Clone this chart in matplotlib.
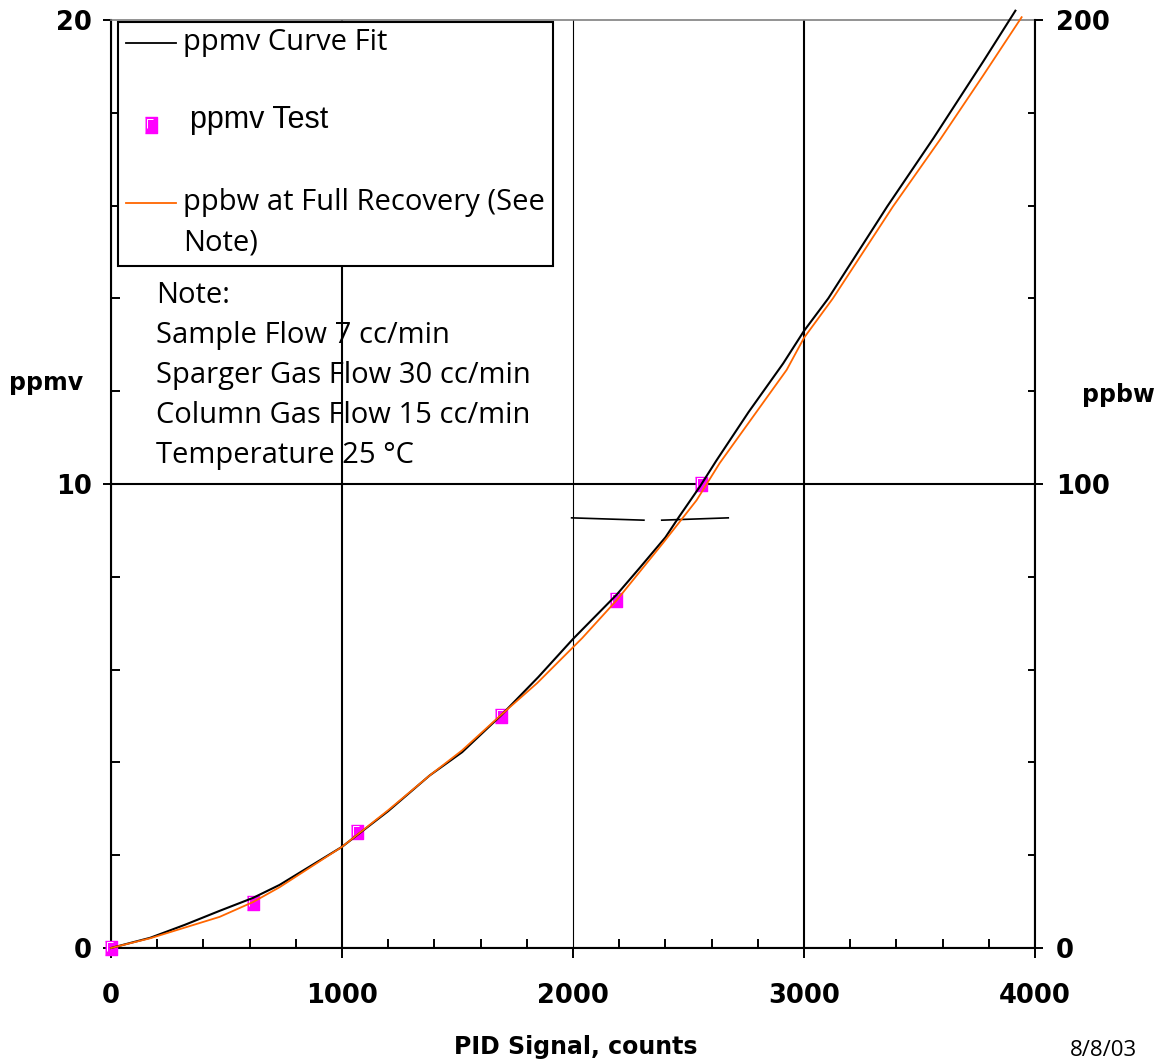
import matplotlib.pyplot as plt
from matplotlib.patches import Rectangle
from matplotlib.path import Path
from matplotlib.ticker import MultipleLocator

# ppmv curve fit (left axis)
fit_x = [0, 170, 320, 470, 615, 730, 1000, 1200, 1380, 1520, 1690, 1850, 2000,
         2190, 2290, 2400, 2460, 2550, 2620, 2760, 2910, 3000, 3105, 3360, 3560,
         3775, 3915]
fit_y = [0, 0.22, 0.5, 0.8, 1.08, 1.36, 2.18, 2.95, 3.72, 4.22, 5.02, 5.84, 6.66,
         7.62, 8.2, 8.85, 9.3, 9.95, 10.5, 11.55, 12.6, 13.3, 14.0, 15.98, 17.45,
         19.1, 20.2]

# ppmv test points
test_x = [0, 615, 1065, 1688, 2186, 2554]
test_y = [0, 0.97, 2.5, 5.0, 7.5, 10.0]

# ppbw at full recovery (right axis)
ppbw_x = [0, 170, 320, 470, 615, 730, 1000, 1200, 1380, 1520, 1690, 1845, 2040,
          2190, 2390, 2535, 2635, 2925, 3000, 3125, 3385, 3590, 3775, 3942]
ppbw_y = [0, 2.1, 4.4, 6.7, 9.9, 13.1, 21.8, 29.7, 37.2, 42.6, 50.3, 57.1, 66.8,
          75.0, 87.3, 96.5, 104.5, 124.6, 131.5, 140.0, 159.8, 174.3, 188.0, 200.6]

# stray line pieces drawn in the original chart
stray_a_x = [1994, 2307]
stray_a_y = [9.27, 9.22]
stray_b_x = [2384, 2672]
stray_b_y = [9.22, 9.27]

note_lines = ["Note:", "Sample Flow 7 cc/min", "Sparger Gas Flow 30 cc/min",
              "Column Gas Flow 15 cc/min", "Temperature 25 \u00b0C"]

txt_font = "Open Sans"
bold_font = "DejaVu Sans"
magenta = "#FF00FF"
orange = "#FF6600"

fig = plt.figure(figsize=(11.61, 10.63), dpi=100)
ax = fig.add_axes([0.0956, 0.1082, 0.7959, 0.873])
ax2 = ax.twinx()


def axpos(px, py):
    # pixel position in the picture -> axes fraction
    return (px - 111) / 924.0, (948 - py) / 928.0


ax.set_xlim(0, 4000)
ax.set_ylim(0, 20)
ax2.set_ylim(0, 200)

ax.xaxis.set_major_locator(MultipleLocator(1000))
ax.xaxis.set_minor_locator(MultipleLocator(200))
ax.yaxis.set_major_locator(MultipleLocator(10))
ax.yaxis.set_minor_locator(MultipleLocator(2))
ax2.yaxis.set_major_locator(MultipleLocator(100))
ax2.yaxis.set_minor_locator(MultipleLocator(20))

ax.xaxis.set_ticks_position('bottom')
ax.yaxis.set_ticks_position('left')

ax.tick_params(which='major', direction='out', length=6, width=1.4, labelsize=18.5)
ax.tick_params(axis='x', which='major', length=7, pad=18)
ax.tick_params(axis='y', which='major', pad=8)
ax.tick_params(which='minor', direction='in', length=6.5, width=1.4)
ax2.tick_params(which='major', direction='out', length=6, width=1.4, labelsize=18.5, pad=9)
ax2.tick_params(which='minor', direction='in', length=5, width=1.4)

for lab in ax.get_xticklabels() + ax.get_yticklabels() + ax2.get_yticklabels():
    lab.set_fontweight('bold')
    lab.set_fontfamily(bold_font)

for sp in ['left', 'bottom']:
    ax.spines[sp].set_linewidth(1.5)
ax.spines['right'].set_visible(False)
ax.spines['top'].set_color('#808080')
ax.spines['top'].set_linewidth(1.2)
ax2.spines['right'].set_linewidth(1.5)
for sp in ['left', 'bottom', 'top']:
    ax2.spines[sp].set_visible(False)

ax.grid(True, which='major', color='black', linewidth=1.5)
for gl in ax.get_xgridlines():
    if gl.get_xdata()[0] == 2000:
        gl.set_linewidth(0.8)
for gl in ax.get_ygridlines():
    if gl.get_ydata()[0] == 20:
        gl.set_visible(False)

# data
box = [(-0.4, -0.5), (0.4, -0.5), (0.4, 0.5), (-0.4, 0.5)]
gamma = Path([(-0.28, -0.2), (-0.28, 0.38), (0.15, 0.38), (0.5, 0.5)],
             [Path.MOVETO, Path.LINETO, Path.LINETO, Path.MOVETO])
ax.plot(test_x, test_y, linestyle='none', marker=box, markersize=10.5,
        markerfacecolor=magenta, markeredgecolor=magenta, clip_on=False, zorder=3)
ax.plot(test_x, test_y, linestyle='none', marker=gamma, markersize=10.5, markerfacecolor='none',
        markeredgecolor='white', markeredgewidth=0.7, clip_on=False, zorder=3)
ax.plot(fit_x, fit_y, color='black', linewidth=1.5, clip_on=False, zorder=4)
ax.plot(stray_a_x, stray_a_y, color='black', linewidth=1.2)
ax.plot(stray_b_x, stray_b_y, color='black', linewidth=1.2)
ax2.plot(ppbw_x, ppbw_y, color=orange, linewidth=1.3, clip_on=False)

# legend box, drawn by hand to match the layout
x0, y0 = axpos(118, 266)
x1, y1 = axpos(553, 22)
ax.add_patch(Rectangle((x0, y0), x1 - x0, y1 - y0, transform=ax.transAxes,
                       facecolor='white', edgecolor='black', linewidth=1.5, zorder=5))
lx0, ly = axpos(126, 43)
lx1, _ = axpos(176, 43)
ax.plot([lx0, lx1], [ly, ly], color='black', linewidth=1.3, transform=ax.transAxes, zorder=6)
tx, _ = axpos(183, 0)
ax.text(tx, ly, "ppmv Curve Fit", transform=ax.transAxes, fontsize=21, family=txt_font,
        va='center', ha='left', zorder=6)
mx, my = axpos(151, 125)
ax.plot([mx], [my], transform=ax.transAxes, linestyle='none', marker=box, markersize=11,
        markerfacecolor=magenta, markeredgecolor=magenta, zorder=6)
ax.plot([mx], [my], transform=ax.transAxes, linestyle='none', marker=gamma, markersize=11,
        markerfacecolor='none', markeredgecolor='white', markeredgewidth=0.7, zorder=6)
tx2, ty2 = axpos(190, 120)
ax.text(tx2, ty2, "ppmv Test", transform=ax.transAxes, fontsize=22, family="Liberation Sans",
        va='center', ha='left', zorder=6)
ox0, oy = axpos(126, 203)
ox1, _ = axpos(176, 203)
ax.plot([ox0, ox1], [oy, oy], color=orange, linewidth=1.3, transform=ax.transAxes, zorder=6)
ax.text(tx, oy, "ppbw at Full Recovery (See", transform=ax.transAxes, fontsize=21,
        family=txt_font, va='center', ha='left', zorder=6)
_, oy2 = axpos(0, 243)
ax.text(tx, oy2, "Note)", transform=ax.transAxes, fontsize=21, family=txt_font,
        va='center', ha='left', zorder=6)

# note
for i, line in enumerate(note_lines):
    nx, ny = axpos(156, 303 + 40 * i)
    ax.text(nx, ny, line, transform=ax.transAxes, fontsize=21, family=txt_font,
            va='baseline', ha='left', zorder=6)

# axis labels
fig.text(46 / 1161, (1063 - 390) / 1063, "ppmv", fontsize=17, fontweight='bold',
         family=bold_font, ha='center', va='baseline')
fig.text(1118 / 1161, (1063 - 402) / 1063, "ppbw", fontsize=17, fontweight='bold',
         family=bold_font, ha='center', va='baseline')
fig.text(576 / 1161, (1063 - 1054) / 1063, "PID Signal, counts", fontsize=17,
         fontweight='bold', family=bold_font, ha='center', va='baseline')
fig.text(1103 / 1161, 0.002, "8/8/03", fontsize=16, family=txt_font,
         ha='center', va='bottom')

fig.savefig('out.png', dpi=100)
